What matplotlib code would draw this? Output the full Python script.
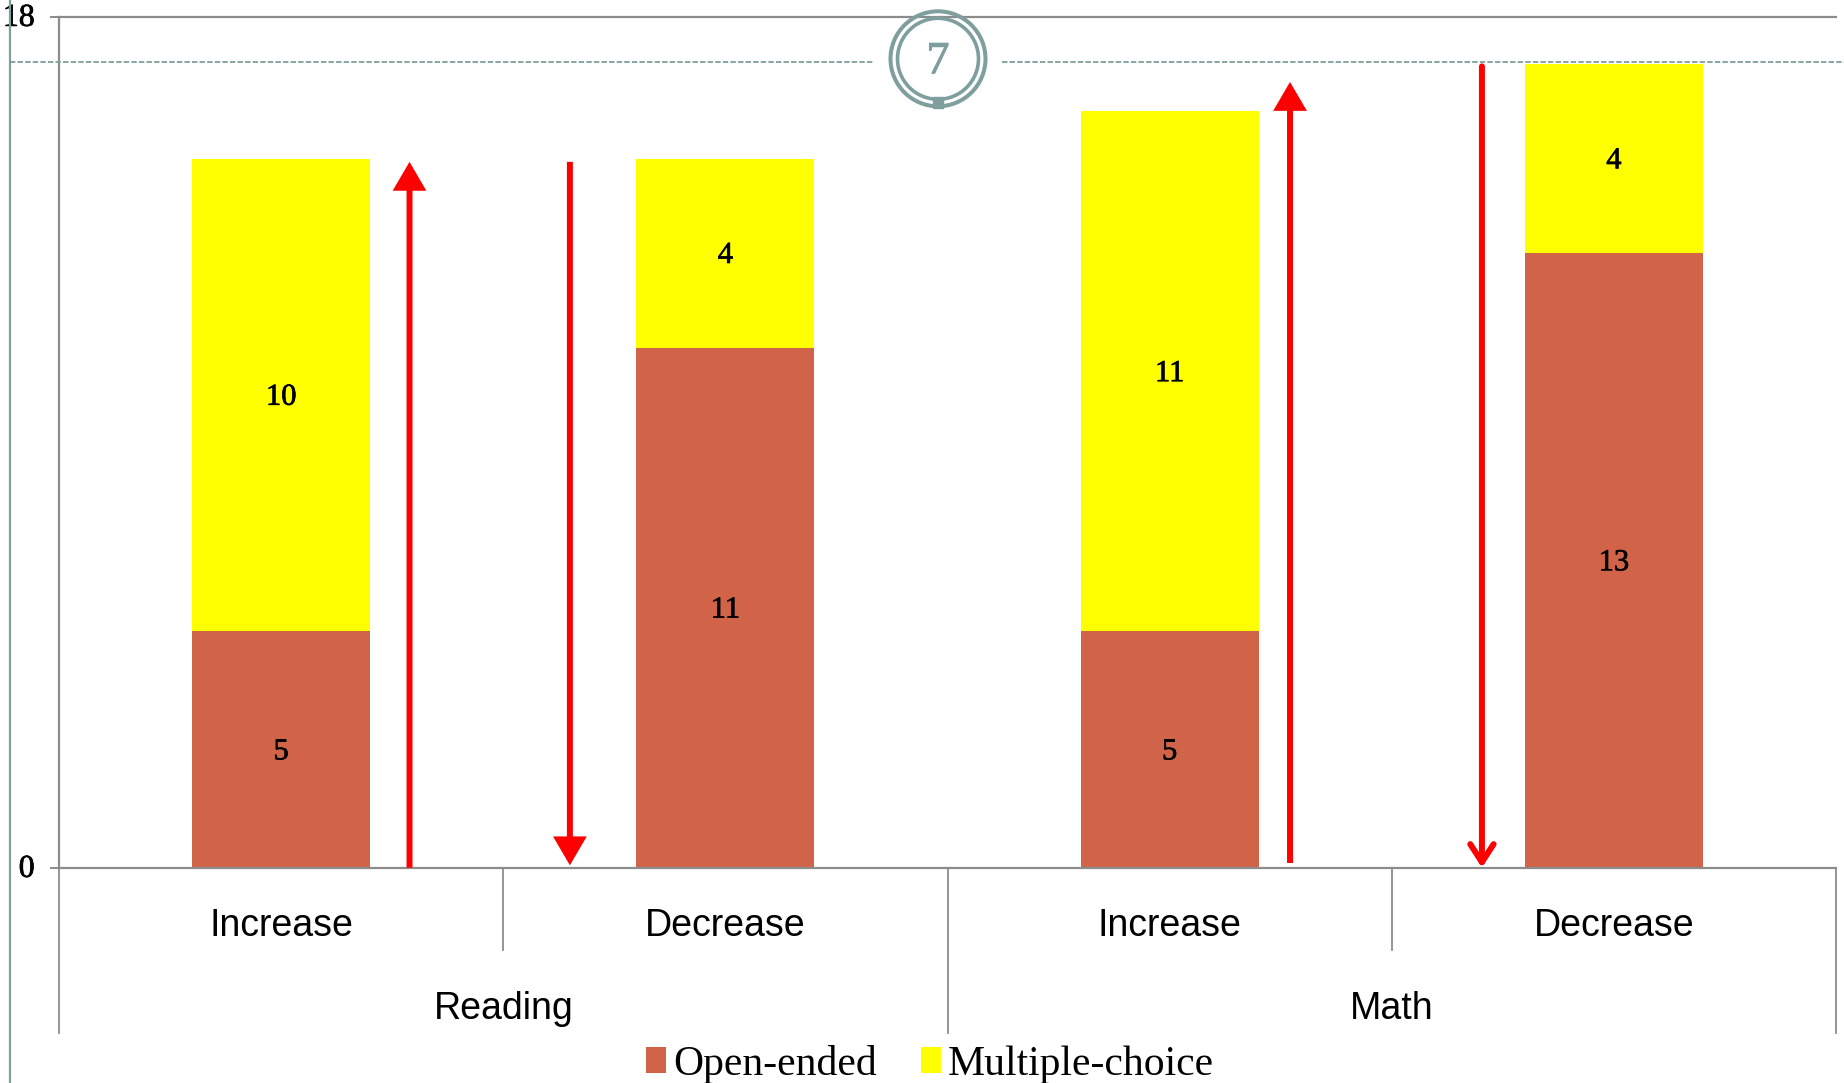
import matplotlib
matplotlib.use("Agg")
import matplotlib.pyplot as plt
import matplotlib.patheffects as pe
from matplotlib.patches import Circle, Rectangle
from matplotlib.transforms import ScaledTranslation

# Data
categories = ["Increase", "Decrease", "Increase", "Decrease"]
groups = ["Reading", "Math"]
open_ended = [5, 11, 5, 13]
multiple_choice = [10, 4, 11, 4]

# Arrows next to the bars (x in bar positions, y in axis units)
arrow_x = [0.289, 0.650, 2.271, 2.703]
arrow_start = [0.0, 14.93, 0.1, 16.95]
arrow_end = [14.93, 0.05, 16.62, 0.0]
arrow_styles = ["-|>,head_length=0.72,head_width=0.42",
                "-|>,head_length=0.72,head_width=0.42",
                "-|>,head_length=0.72,head_width=0.42",
                "->,head_length=0.65,head_width=0.42"]
arrow_joins = ["miter", "miter", "miter", "round"]

W, H = 1844, 1083
RED = "#D16349"
YELLOW = "#FFFF00"
GRAY = "#8C8C8C"
TEAL = "#7F9E9E"
SERIF = "Liberation Serif"
SANS = "Liberation Sans"
heavier = [pe.withStroke(linewidth=0.5, foreground="black")]

fig = plt.figure(figsize=(W / 100, H / 100), dpi=100, facecolor="white")
ax = fig.add_axes([59 / W, 1 - 867.7 / H, (1836 - 59) / W, (867.7 - 16.7) / H])

############
# Bars     #
############
x = list(range(len(categories)))
ax.bar(x, open_ended, width=0.401, color=RED, label="Open-ended", zorder=2)
ax.bar(x, multiple_choice, width=0.401, bottom=open_ended, color=YELLOW,
       label="Multiple-choice", zorder=2)

for i in x:
    ax.text(i, open_ended[i] / 2 - 0.05, str(open_ended[i]), ha="center", va="center",
            family=SERIF, fontsize=22, color="black", zorder=3, path_effects=heavier)
    ax.text(i, open_ended[i] + multiple_choice[i] / 2 - 0.05, str(multiple_choice[i]),
            ha="center", va="center", family=SERIF, fontsize=22, color="black", zorder=3,
            path_effects=heavier)

for i in x:
    ax.annotate("", xy=(arrow_x[i], arrow_end[i]), xytext=(arrow_x[i], arrow_start[i]),
                arrowprops=dict(arrowstyle=arrow_styles[i], color="#FF0000", lw=4.3,
                                mutation_scale=20, shrinkA=0, shrinkB=0,
                                capstyle="butt" if arrow_joins[i] == "miter" else "round",
                                joinstyle=arrow_joins[i]),
                zorder=4)

############
# Axes     #
############
ax.set_xlim(-0.5, 3.5)
ax.set_ylim(0, 18)
ax.set_yticks([0, 18])
ax.set_yticklabels(["0", "18"], family=SERIF, fontsize=23)
ax.set_xticks([])
ax.tick_params(axis="y", length=6.5, width=1.4, color=GRAY, pad=11)
for label in ax.get_yticklabels():
    label.set_transform(label.get_transform() + ScaledTranslation(0, 1.3 / 72, fig.dpi_scale_trans))
    label.set_path_effects(heavier)
for name in ["left", "bottom", "top"]:
    ax.spines[name].set_color(GRAY)
    ax.spines[name].set_linewidth(1.6)
ax.spines["right"].set_visible(False)

# Two level category axis below the bars
for pos in [0.5, 2.5]:
    ax.plot([pos, pos], [0, -1.74], color=GRAY, lw=1.3, clip_on=False)
for pos in [-0.5, 1.5, 3.5]:
    ax.plot([pos, pos], [0, -3.5], color=GRAY, lw=1.3, clip_on=False)
for i in x:
    ax.text(i, -1.23, categories[i], ha="center", va="center", family=SANS, fontsize=27)
for i, name in enumerate(groups):
    ax.text(0.5 + 2 * i, -2.98, name, ha="center", va="center", family=SANS, fontsize=27)

leg = fig.legend(loc="center", bbox_to_anchor=(930 / W, 1 - 1064 / H), ncol=2, frameon=False,
                 prop={"family": SERIF, "size": 30}, handlelength=0.48, handleheight=0.6,
                 handletextpad=0.17, columnspacing=1.05, borderpad=0, borderaxespad=0)

###############
# Slide parts #
###############
deco = fig.add_axes([0, 0, 1, 1], zorder=5)
deco.set_xlim(0, W)
deco.set_ylim(H, 0)
deco.axis("off")
deco.patch.set_alpha(0)

deco.plot([10, 10], [0, H], color=TEAL, lw=1.6)
deco.plot([10, 873], [62, 62], color=TEAL, lw=1.3, ls=(0, (3, 1.2)))
deco.plot([1002, W], [62, 62], color=TEAL, lw=1.3, ls=(0, (3, 1.2)))
deco.add_patch(Circle((938, 58.8), 47.5, fill=False, edgecolor=TEAL, lw=2.9))
deco.add_patch(Circle((938, 58.8), 40.5, facecolor="white", edgecolor=TEAL, lw=2.6))
deco.add_patch(Rectangle((933, 97), 10, 11, color=TEAL))
deco.text(938, 62, "7", ha="center", va="center", family=SERIF, fontsize=33, color=TEAL,
          path_effects=[pe.withStroke(linewidth=0.8, foreground=TEAL)])

fig.savefig("out.png", dpi=100)
